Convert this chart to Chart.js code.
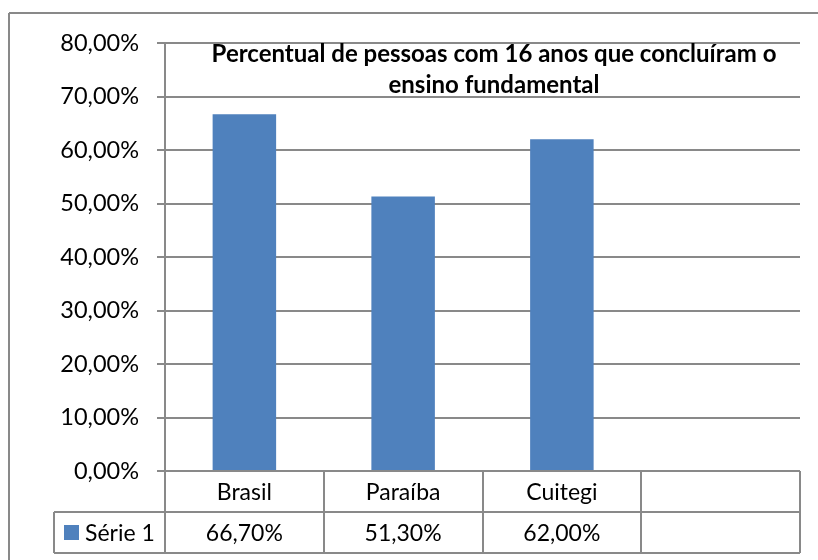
<!DOCTYPE html>
<html>
<head>
<meta charset="utf-8">
<script src="https://cdn.jsdelivr.net/npm/chart.js@4.4.1/dist/chart.umd.min.js"></script>
<style>
  body { margin: 0; background: #fff; }
  #wrap { width: 818px; height: 560px; }
</style>
</head>
<body>
<div id="wrap"><canvas id="chart"></canvas></div>
<script>
const categories = ['Brasil', 'Paraíba', 'Cuitegi', ''];
const seriesName = 'Série 1';
const values = [66.7, 51.3, 62.0, null];
const yMax = 80;
const yStep = 10;
const titleLines = ['Percentual de pessoas com 16 anos que concluíram o', 'ensino fundamental'];

const barColor = '#4f81bd';
const lineColor = '#898989';
const fontFamily = 'Lato, "Open Sans", sans-serif';

const fmt = v => v.toFixed(2).replace('.', ',') + '%';

function line(ctx, x1, y1, x2, y2) {
  ctx.beginPath();
  ctx.moveTo(x1, y1);
  ctx.lineTo(x2, y2);
  ctx.stroke();
}

// outer frame, title and data table under the plot
const extras = {
  id: 'extras',
  afterDraw(chart) {
    const ctx = chart.ctx;
    const area = chart.chartArea;
    const xs = chart.scales.x;
    const colW = (area.right - area.left) / categories.length;
    const top = area.bottom;
    const mid = top + 41;
    const bottom = top + 82;
    const legendLeft = 54;

    ctx.save();
    ctx.strokeStyle = lineColor;
    ctx.lineWidth = 2;

    // chart frame (only top and left edges visible)
    line(ctx, 9, 13, 818, 13);
    line(ctx, 9, 13, 9, 560);

    // table grid
    line(ctx, area.left, top, area.right, top);
    line(ctx, legendLeft, mid, area.right, mid);
    line(ctx, legendLeft, bottom, area.right, bottom);
    line(ctx, legendLeft, mid, legendLeft, bottom);
    for (let i = 0; i <= categories.length; i++) {
      const xx = Math.round(area.left + i * colW);
      line(ctx, xx, top, xx, bottom);
    }

    // table text
    ctx.fillStyle = '#000';
    ctx.font = '23px ' + fontFamily;
    ctx.textAlign = 'center';
    ctx.textBaseline = 'middle';
    categories.forEach((c, i) => {
      const cx = xs.getPixelForValue(i);
      ctx.fillText(c, cx, (top + mid) / 2 + 1);
      if (values[i] !== null) ctx.fillText(fmt(values[i]), cx, (mid + bottom) / 2 + 1);
    });

    // legend key
    ctx.fillStyle = barColor;
    ctx.fillRect(64, 525, 15, 15);
    ctx.fillStyle = '#000';
    ctx.textAlign = 'left';
    ctx.fillText(seriesName, 85, (mid + bottom) / 2 + 1);

    // title
    ctx.font = 'bold 24px ' + fontFamily;
    ctx.textAlign = 'center';
    ctx.textBaseline = 'alphabetic';
    ctx.fillText(titleLines[0], 494, 62);
    ctx.fillText(titleLines[1], 494, 93);
    ctx.restore();
  }
};

new Chart(document.getElementById('chart'), {
  type: 'bar',
  data: {
    labels: categories,
    datasets: [{
      label: seriesName,
      data: values,
      backgroundColor: barColor,
      categoryPercentage: 1,
      barPercentage: 0.4
    }]
  },
  options: {
    responsive: true,
    maintainAspectRatio: false,
    animation: false,
    layout: { padding: { left: 0, top: 43, right: 18, bottom: 89 } },
    plugins: {
      legend: { display: false },
      tooltip: { enabled: false }
    },
    scales: {
      x: { display: false },
      y: {
        min: 0,
        max: yMax,
        afterFit(scale) { scale.width = 165; },
        ticks: {
          stepSize: yStep,
          padding: 18,
          color: '#000',
          font: { family: fontFamily, size: 23.5 },
          callback: v => fmt(v)
        },
        grid: { color: lineColor, lineWidth: 2, tickLength: 8 },
        border: { color: lineColor, width: 2 }
      }
    }
  },
  plugins: [extras]
});
</script>
</body>
</html>
